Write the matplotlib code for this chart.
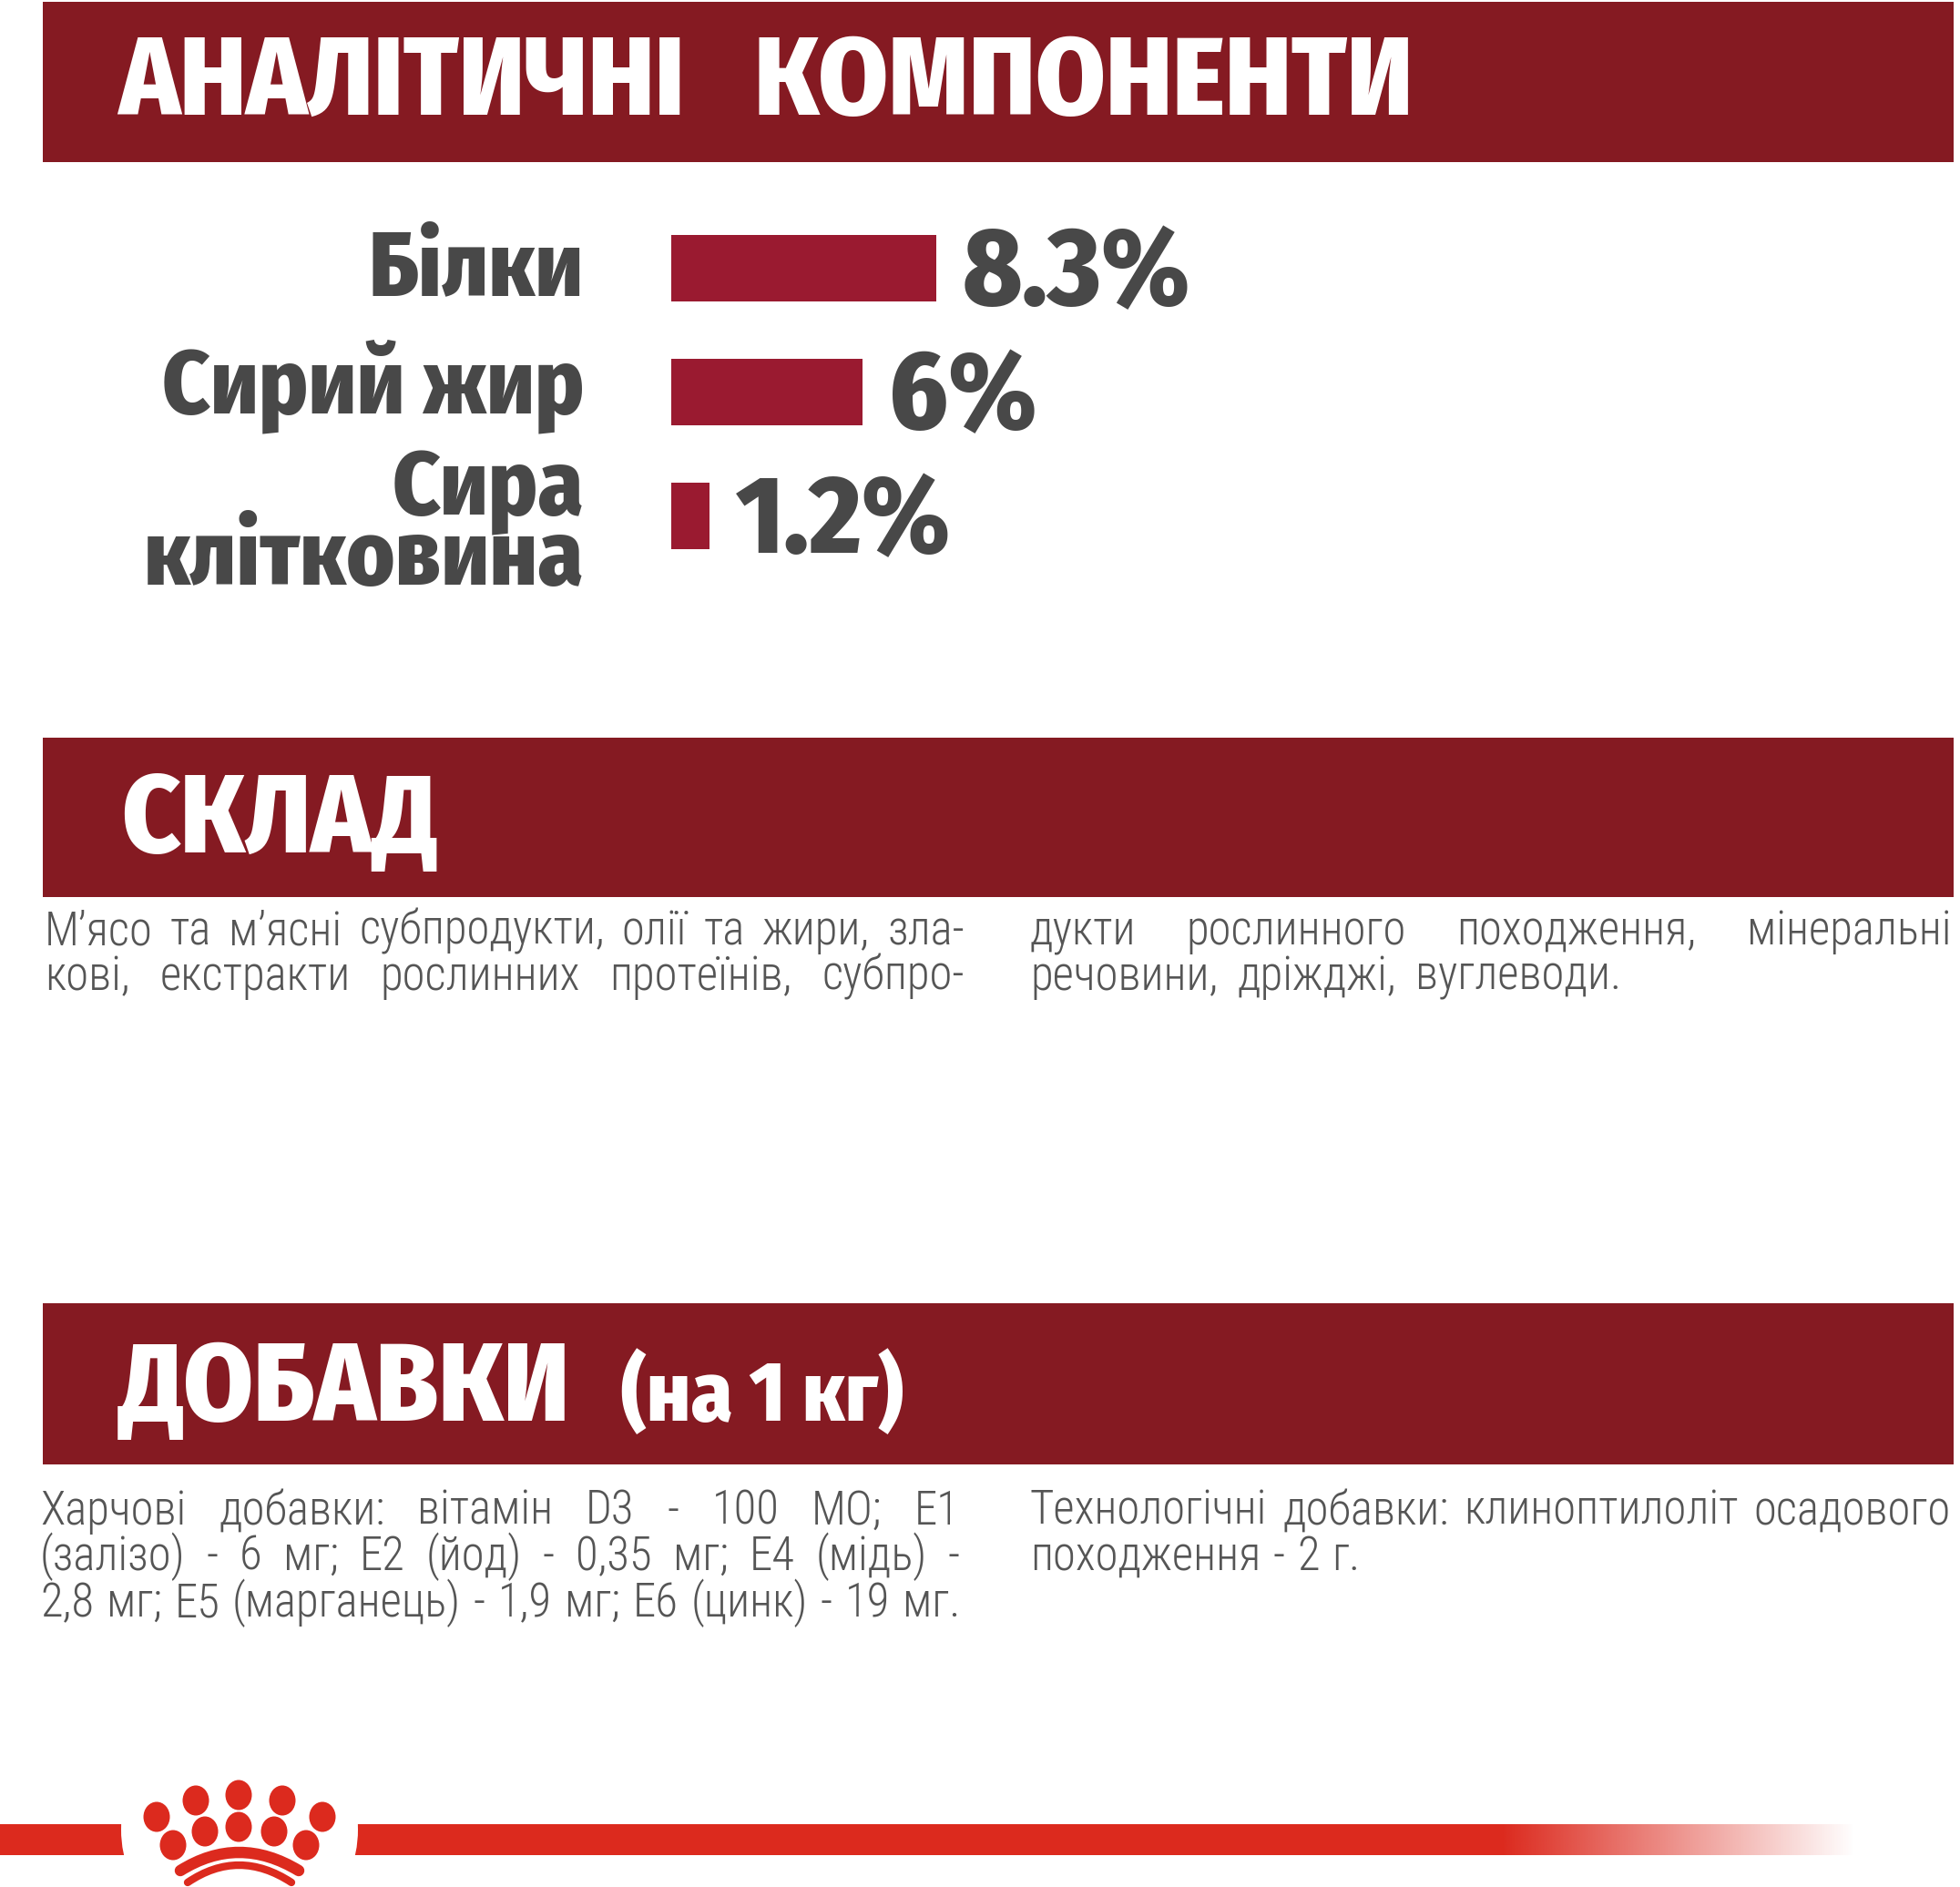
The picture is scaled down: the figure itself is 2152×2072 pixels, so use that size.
"""Analytical components sheet: headers, bars and body text."""

import numpy as np
import matplotlib

matplotlib.use("Agg")
from matplotlib import pyplot as plt
from matplotlib.colors import to_rgb
from matplotlib.patches import Circle, Ellipse, PathPatch, Rectangle
from matplotlib.path import Path

W, H = 2152, 2072

categories = ["Білки", "Сирий жир", "Сира\nклітковина"]
values = [8.3, 6, 1.2]
value_labels = ["8.3%", "6%", "1.2%"]

composition_left = [
    "М’ясо та м’ясні субпродукти, олії та жири, зла-",
    "кові, екстракти рослинних протеїнів, субпро-",
]
composition_right = [
    "дукти рослинного походження, мінеральні",
    "речовини, дріжджі, вуглеводи.",
]
additives_left = [
    "Харчові добавки: вітамін D3 - 100 МО; Е1",
    "(залізо) - 6 мг; Е2 (йод) - 0,35 мг; Е4 (мідь) -",
    "2,8 мг; Е5 (марганець) - 1,9 мг; Е6 (цинк) - 19 мг.",
]
additives_right = [
    "Технологічні добавки: клиноптилоліт осадового",
    "походження - 2 г.",
]

DARK_RED = "#851A22"
BAR_RED = "#9A1A30"
LOGO_RED = "#DC2A1E"
GREY = "#484848"
BODY_GREY = "#555555"
BOLD = ["Fira Sans Condensed", "Roboto Condensed", "Liberation Sans"]
LIGHT = ["Roboto Condensed", "Roboto", "DejaVu Sans"]

fig = plt.figure(figsize=(W / 100, H / 100), dpi=100, facecolor="white")
canvas = fig.add_axes([0, 0, 1, 1])
canvas.set_axis_off()
canvas.set_xlim(0, W)
canvas.set_ylim(H, 0)


def header(top, bottom):
    canvas.add_patch(Rectangle((47, top), 2145 - 47, bottom - top, color=DARK_RED, lw=0))


def justified(lines, x0, x1_list, baselines, **style):
    """Place each line word by word so it runs from x0 to its right edge."""
    renderer = fig.canvas.get_renderer()
    for line, x1, y in zip(lines, x1_list, baselines):
        words = line.split(" ")
        artists = [canvas.text(x0, y, w, ha="left", va="baseline", **style) for w in words]
        widths = [a.get_window_extent(renderer).width for a in artists]
        gap = (x1 - x0 - sum(widths)) / max(len(words) - 1, 1)
        x = x0
        for artist, width in zip(artists, widths):
            artist.set_x(x)
            x += width + gap


head_style = dict(color="white", fontsize=88, fontweight=800, family=BOLD)
body_style = dict(color=BODY_GREY, fontsize=36.5, fontweight=300, family=LIGHT)

header(2, 178)
header(810, 985)
header(1431, 1608)
justified(["АНАЛІТИЧНІ КОМПОНЕНТИ"], 130, [1552], [126], **head_style)
canvas.text(133, 936, "СКЛАД", ha="left", va="baseline", **head_style)
canvas.text(130, 1560, "ДОБАВКИ", ha="left", va="baseline", **head_style)
canvas.text(682, 1560, "(на 1 кг)", ha="left", va="baseline", color="white", fontsize=66,
            fontweight=800, family=BOLD)

justified(composition_left, 49, [1059, 1059], [1037, 1087], **body_style)
justified(composition_right, 1131, [2142, 1780], [1037, 1087], **body_style)
justified(additives_left, 44, [1054, 1054, 1054], [1674, 1724, 1775], **body_style)
justified(additives_right, 1131, [2142, 1493], [1674, 1724], **body_style)

# footer strip with its fade, the logo sits in a white gap
canvas.add_patch(Rectangle((0, 2003), 1651, 34, color=LOGO_RED, lw=0))
fade = np.ones((1, 256, 4))
fade[..., :3] = to_rgb(LOGO_RED)
fade[..., 3] = np.linspace(1, 0, 256)
canvas.imshow(fade, extent=(1650, 2037, 2037, 2003), aspect="auto", zorder=2)
canvas.set_xlim(0, W)
canvas.set_ylim(H, 0)
canvas.add_patch(Circle((263, 2009), 130, color="white", lw=0, zorder=3))

logo_dots = [(262, 1971), (215, 1977), (310, 1977), (172, 1995), (354, 1995),
             (225, 2011), (262, 2006), (301, 2011), (190, 2026), (336, 2026)]
for cx, cy in logo_dots:
    canvas.add_patch(Ellipse((cx, cy), 29, 33, color=LOGO_RED, lw=0, zorder=4))
for (x0, y0), (xm, ym), (x1, y1), lw in [((198, 2054), (262, 2034), (328, 2054), 9),
                                         ((206, 2067), (262, 2048), (320, 2067), 6)]:
    arc = Path([(x0, y0), (xm, 2 * ym - y0), (x1, y1)], [Path.MOVETO, Path.CURVE3, Path.CURVE3])
    canvas.add_patch(PathPatch(arc, fc="none", ec=LOGO_RED, lw=lw, capstyle="round", zorder=4))

# bar block, one unit of value is 35 px
ax = fig.add_axes([737 / W, 1 - 634.5 / H, 350 / W, 408 / H])
ax.set_axis_off()
ax.patch.set_alpha(0)
positions = np.arange(len(values))
ax.barh(positions, values, height=0.535, color=BAR_RED)
ax.set_xlim(0, 10)
ax.set_ylim(2.5, -0.5)
for pos, value, label in zip(positions, values, value_labels):
    ax.annotate(label, (value, pos), xytext=(21, 4), textcoords="offset points",
                color=GREY, fontsize=88, fontweight=800, family=BOLD,
                ha="left", va="center_baseline", annotation_clip=False)

for category, baseline in zip(categories, [324, 453, 642]):
    canvas.text(641, baseline, category, color=GREY, fontsize=72, fontweight=800, family=BOLD,
                linespacing=0.71, ha="right", va="baseline", multialignment="right")

fig.savefig("out.png", dpi=100)
plt.close(fig)
